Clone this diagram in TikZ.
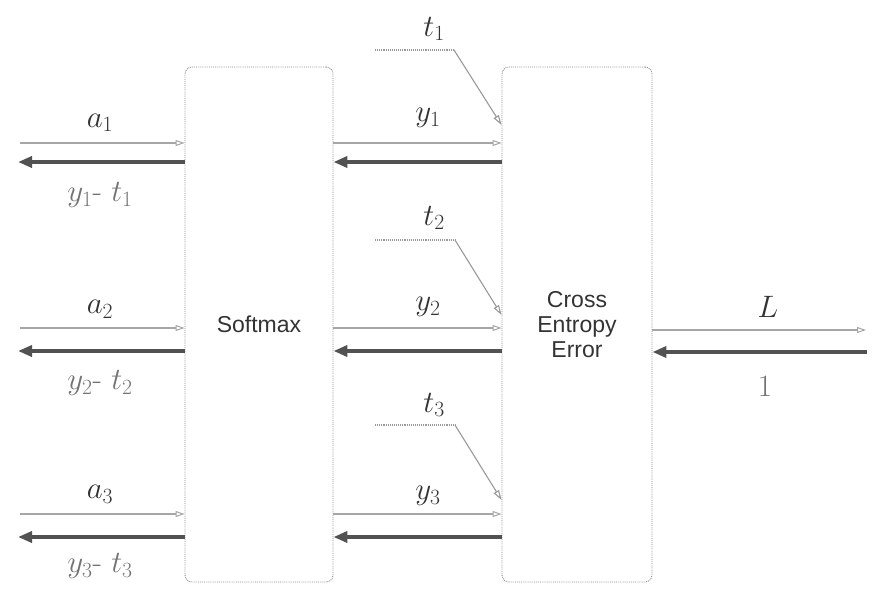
\RequirePackage{fix-cm}
\documentclass[tikz,border=0pt]{standalone}
\usepackage{fontspec}
\setsansfont{Liberation Sans}
\usetikzlibrary{arrows.meta}
\begin{document}
\begin{tikzpicture}[x=1pt,y=-1pt,
  box/.style={draw=black!45, densely dotted, line width=0.9pt, rounded corners=7pt, inner sep=0pt, font=\sffamily\fontsize{23}{25}\selectfont, align=center, text=black!80},
  fwd/.style={draw=black!35, line width=1.2pt, -{Triangle[open,length=9pt,width=6pt,line width=1pt]}},
  bwd/.style={draw=black!68, line width=3.8pt, -{Triangle[length=14pt,width=11pt]}},
  tline/.style={draw=black!40, line width=1.1pt, -{Triangle[open,length=10pt,width=6pt]}},
  tdash/.style={draw=black!40, line width=1.1pt, densely dotted},
  lab/.style={font=\fontsize{31}{36}\selectfont, text=black!80, inner sep=0pt},
  glab/.style={font=\fontsize{31}{36}\selectfont, text=black!55, inner sep=0pt}]
\useasboundingbox (0,0) rectangle (892,607);
\node[box, minimum width=148pt, minimum height=515pt] (sm) at (259,324.5) {Softmax};
\node[box, minimum width=150pt, minimum height=515pt] (ce) at (577,324.5) {Cross\\Entropy\\Error};
% left free ends
\coordinate (la1) at (20,143);
\coordinate (lb1) at (18,162);
\coordinate (la2) at (20,328);
\coordinate (lb2) at (18,351);
\coordinate (la3) at (20,514);
\coordinate (lb3) at (18,537);
\foreach \i in {1,2,3}{
  \draw[fwd] (la\i) -- (la\i -| sm.west);
  \draw[bwd] (lb\i -| sm.west) -- (lb\i);
  \draw[fwd] (la\i -| sm.east) -- (la\i -| ce.west);
  \draw[bwd] (lb\i -| ce.west) -- (lb\i -| sm.east);
}
% labels left
\node[lab] (a1) at (100,123) {$a_1$};
\node[glab] (d1) at (100,195) {$y_1$- $t_1$};
\node[lab] (a2) at (100,309) {$a_2$};
\node[glab] (d2) at (100,383) {$y_2$- $t_2$};
\node[lab] (a3) at (100,494) {$a_3$};
\node[glab] (d3) at (100,566) {$y_3$- $t_3$};
% labels middle
\node[lab] (y1) at (428,118) {$y_1$};
\node[lab] (y2) at (428,307) {$y_2$};
\node[lab] (y3) at (428,496) {$y_3$};
% t inputs
\node[lab] (t1) at (434,29) {$t_1$};
\node[lab] (t2) at (434,218) {$t_2$};
\node[lab] (t3) at (434,405) {$t_3$};
\coordinate (ts1) at (375,50);
\coordinate (tk1) at (454,50);
\coordinate (ts2) at (375,240);
\coordinate (tk2) at (455,240);
\coordinate (ts3) at (375,425);
\coordinate (tk3) at (455,425);
\draw[tdash] (ts1) -- (tk1);
\draw[tline] (tk1) -- (ce.west |- 0,125);
\draw[tdash] (ts2) -- (tk2);
\draw[tline] (tk2) -- (ce.west |- 0,315);
\draw[tdash] (ts3) -- (tk3);
\draw[tline] (tk3) -- (ce.west |- 0,500);
% right
\coordinate (rL) at (866,330);
\coordinate (r1) at (867,352);
\draw[fwd] (ce.east |- rL) -- (rL);
\draw[bwd] (r1) -- (ce.east |- r1);
\node[lab] (L) at (768,307) {$L$};
\node[glab] (one) at (765,387) {$1$};
\end{tikzpicture}
\end{document}
